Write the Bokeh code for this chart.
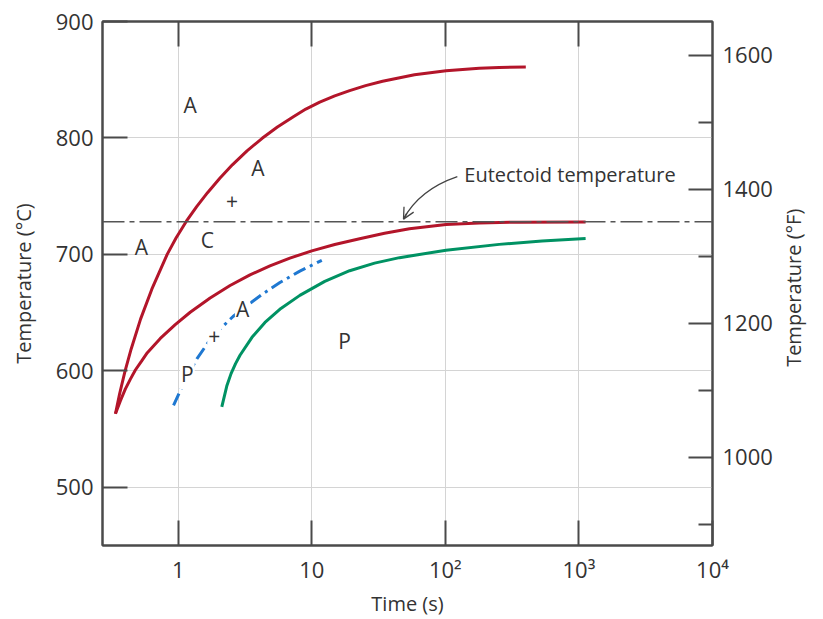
import math
from bokeh.plotting import figure
from bokeh.models import (Range1d, LinearAxis, LogAxis, FixedTicker, Span,
                          Arrow, OpenHead, ColumnDataSource, CustomJSTickFormatter)
from bokeh.core.properties import value
from bokeh.embed import file_html
from bokeh.resources import INLINE

# ---------------- data ----------------
# upper red curve: start of transformation, time in s, temperature in degC
start_time = [0.3388, 0.364, 0.4001, 0.4443, 0.5223, 0.6343, 0.8264, 0.9629, 1.151, 1.374,
              1.657, 2.048, 2.542, 3.274, 4.250, 5.527, 7.278, 9.021, 11.47, 14.85,
              19.21, 25.29, 33.88, 58.72, 101.2, 179.4, 252.9, 400.2]
start_temp = [563.2, 580.3, 600.0, 618.8, 644.4, 670.1, 700.0, 714.1, 728.5, 741.0,
              753.0, 765.4, 776.9, 788.9, 799.7, 809.4, 818.2, 824.8, 830.8, 836.1,
              840.6, 844.9, 848.7, 854.3, 857.7, 859.8, 860.5, 860.9]

# lower red curve
mid_time = [0.3388, 0.3692, 0.4021, 0.4383, 0.4777, 0.5296, 0.5871, 0.734, 0.9497, 1.229,
            1.733, 2.444, 3.446, 4.86, 6.853, 10.0, 14.85, 22.81, 35.06, 53.87, 101.2,
            179.4, 356.6, 1122]
mid_temp = [563.2, 574.4, 584.5, 592.9, 600.7, 608.1, 615.6, 627.8, 639.6, 650.3,
            662.6, 673.3, 682.4, 690.1, 696.8, 703.0, 708.5, 713.4, 718.1, 722.0, 725.6,
            727.0, 727.7, 727.9]

# blue dash-dot curve
half_time = [0.9224, 1.066, 1.208, 1.379, 1.674, 2.058, 2.573, 3.256, 4.309, 5.771, 8.136, 11.88]
half_temp = [570.3, 586.1, 598.2, 610.3, 624.3, 635.9, 646.7, 655.8, 666.2, 675.8, 685.6, 694.9]

# green curve: end of transformation
end_time = [2.119, 2.309, 2.486, 2.686, 2.901, 3.566, 4.46, 5.871, 8.136, 12.5, 19.21,
            29.52, 45.37, 101.2, 252.9, 529.6, 1122]
end_temp = [569.0, 586.9, 597.6, 606.2, 613.4, 628.8, 641.6, 653.6, 664.8, 676.8, 686.0,
            692.5, 697.2, 703.6, 708.6, 711.5, 713.7]

eutectoid_temp = 728

# region labels
region_text = ["A", "A", "+", "A", "C", "P"]
region_time = [1.23, 3.95, 2.53, 0.53, 1.65, 17.6]
region_temp = [828, 774, 746, 706, 712, 626]

# labels sitting on the blue curve (A + P)
onl_text = ["A", "+", "P"]
onl_time = [3.03, 1.86, 1.17]
onl_temp = [653, 630, 597]

# axis ticks
x_ticks = [1, 10, 100, 1000, 10000]
x_tick_labels = ["1", "10", "10\u00b2", "10\u00b3", "10\u2074"]
c_ticks = [500, 600, 700, 800, 900]
f_ticks = [1000, 1200, 1400, 1600]
f_minor_ticks = [900, 1100, 1300, 1500]
f_title = "Temperature (\u00b0F)"

# ---------------- styling ----------------
FONT = "Open Sans"
TXT = "#333333"
AX = "#4a4a4a"
RED = "#b3152a"
GREEN = "#009263"
BLUE = "#1f78d1"

p = figure(width=823, height=619, x_axis_type="log",
           x_range=Range1d(0.271, 10000), y_range=Range1d(450, 900),
           output_backend="svg", toolbar_location=None,
           min_border_left=102, min_border_right=110, min_border_top=21, min_border_bottom=71)
p.extra_y_ranges = {"F": Range1d(868, 1650.5)}
p.outline_line_color = AX
p.outline_line_width = 2
p.background_fill_color = "white"
p.border_fill_color = "white"

# bottom axis
xa = p.xaxis[0]
xa.ticker = FixedTicker(ticks=x_ticks)
lab_map = {str(t): l for t, l in zip(x_ticks, x_tick_labels)}
xa.formatter = CustomJSTickFormatter(
    args=dict(m=lab_map),
    code="const k = String(Math.round(tick)); return (k in m) ? m[k] : k;")
xa.axis_label = "Time (s)"

# left axis
ya = p.yaxis[0]
ya.ticker = FixedTicker(ticks=c_ticks)
ya.axis_label = "Temperature (\u00b0C)"

# right axis (degF)
ra = LinearAxis(y_range_name="F", ticker=FixedTicker(ticks=f_ticks, minor_ticks=f_minor_ticks))
p.add_layout(ra, "right")

# right axis title, drawn as a single rotated tick label reading bottom-to-top
rt = LinearAxis(ticker=FixedTicker(ticks=[603.4]),
                formatter=CustomJSTickFormatter(args=dict(t=f_title), code="return t;"))
p.add_layout(rt, "right")

# top axis (ticks only)
ta = LogAxis(ticker=FixedTicker(ticks=x_ticks[:-1]))
p.add_layout(ta, "above")

for ax in (xa, ya, ra, ta):
    ax.axis_line_color = AX
    ax.axis_line_width = 2
    ax.major_tick_line_color = AX
    ax.major_tick_line_width = 2
    ax.major_tick_in = 25
    ax.major_tick_out = 0
    ax.minor_tick_line_color = None
    ax.major_label_text_font = FONT
    ax.major_label_text_font_size = "22px"
    ax.major_label_text_color = TXT
    ax.major_label_standoff = 9
    ax.axis_label_text_font = FONT
    ax.axis_label_text_font_size = "20px"
    ax.axis_label_text_font_style = "normal"
    ax.axis_label_text_color = TXT

rt.axis_line_color = None
rt.major_tick_line_color = None
rt.minor_tick_line_color = None
rt.major_tick_in = 0
rt.major_tick_out = 0
rt.major_label_orientation = math.pi / 2
rt.major_label_standoff = 18
rt.major_label_text_font = FONT
rt.major_label_text_font_size = "20px"
rt.major_label_text_color = TXT

ra.major_tick_in = 24
ra.minor_tick_line_color = AX
ra.minor_tick_line_width = 2
ra.minor_tick_in = 14
ra.minor_tick_out = 0
ra.major_label_standoff = 10
xa.major_label_standoff = 8
xa.axis_label_standoff = 3
ya.axis_label_standoff = 16
ta.major_label_text_font_size = "1px"
ta.major_label_text_color = None
ta.major_label_standoff = 0

p.xgrid.ticker = FixedTicker(ticks=x_ticks)
p.ygrid.ticker = FixedTicker(ticks=c_ticks)
p.xgrid.grid_line_color = "#d4d4d4"
p.ygrid.grid_line_color = "#d4d4d4"
p.xgrid.grid_line_width = 1
p.ygrid.grid_line_width = 1

# eutectoid line
p.add_layout(Span(location=eutectoid_temp, dimension="width", line_color="#555555",
                  line_width=1.6, line_dash="22 5 5 5"))

# curves
p.line(start_time, start_temp, line_color=RED, line_width=3)
p.line(mid_time, mid_temp, line_color=RED, line_width=3)
p.line(end_time, end_temp, line_color=GREEN, line_width=3)
p.line(half_time, half_temp, line_color=BLUE, line_width=3, line_dash="13 5 3 5")

# region labels
src = ColumnDataSource(dict(x=region_time, y=region_temp, t=region_text))
p.text(x="x", y="y", text="t", source=src, text_font=value(FONT), text_font_size="21px",
       text_color=TXT, text_align="center", text_baseline="middle")

src2 = ColumnDataSource(dict(x=onl_time, y=onl_temp, t=onl_text))
p.text(x="x", y="y", text="t", source=src2, text_font=value(FONT), text_font_size="21px",
       text_color=TXT, text_align="center", text_baseline="middle",
       background_fill_color="white", padding=1)

# eutectoid annotation
p.text(x=[138.6], y=[768.4], text=["Eutectoid temperature"], text_font=value(FONT),
       text_font_size="20px", text_color=TXT, text_align="left", text_baseline="middle")
p.quadratic(x0=[122.9], y0=[766.7], x1=[48.6], y1=[730.3], cx=[64.0], cy=[755.6],
            line_color="#444444", line_width=1.3)
p.add_layout(Arrow(x_start=51.2, y_start=735.0, x_end=48.6, y_end=730.3,
                   line_color="#444444", line_width=1.3,
                   end=OpenHead(size=11, line_color="#444444", line_width=1.3)))

open("out.html", "w").write(file_html(p, INLINE))
